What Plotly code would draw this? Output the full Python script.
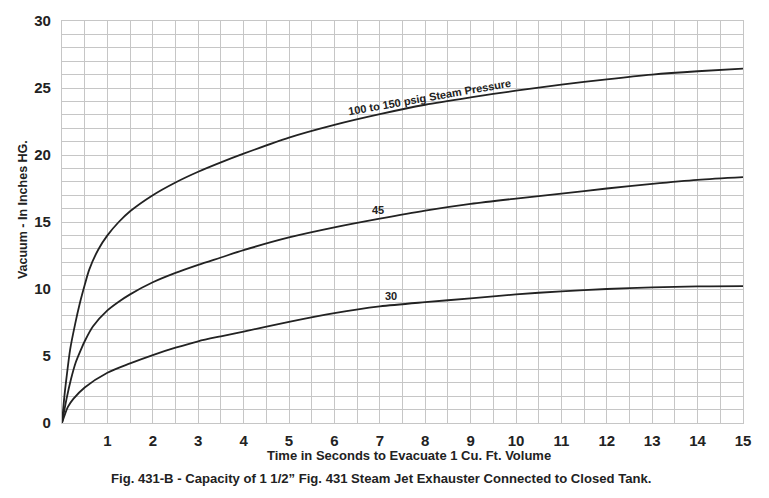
import plotly.graph_objects as go

# ---- data ----
x_top = [0, 0.05, 0.1, 0.18, 0.29, 0.39, 0.5, 0.6, 0.8, 1.0, 1.25, 1.5, 2.0, 2.5, 3.0, 3.5, 4.0, 5.0, 6.0, 7.0, 8.0, 9.0, 10.0, 11.0, 12.0, 13.0, 14.0, 15.0]
y_top = [0, 1.9, 3.4, 5.5, 7.4, 8.9, 10.3, 11.45, 12.95, 14.0, 15.0, 15.8, 17.0, 17.95, 18.75, 19.45, 20.1, 21.3, 22.25, 23.05, 23.75, 24.3, 24.8, 25.25, 25.65, 26.0, 26.25, 26.45]

x_mid = [0, 0.1, 0.2, 0.3, 0.42, 0.5, 0.68, 1.0, 1.25, 1.5, 2.0, 2.5, 3.0, 3.5, 4.0, 5.0, 6.0, 7.0, 8.0, 9.0, 10.0, 11.0, 12.0, 13.0, 14.0, 15.0]
y_mid = [0, 1.8, 3.3, 4.5, 5.5, 6.1, 7.2, 8.4, 9.05, 9.6, 10.5, 11.2, 11.8, 12.35, 12.9, 13.85, 14.6, 15.25, 15.85, 16.35, 16.75, 17.12, 17.5, 17.85, 18.15, 18.35]

x_low = [0, 0.05, 0.13, 0.25, 0.5, 1.0, 1.5, 2.0, 2.5, 3.0, 3.5, 4.0, 5.0, 6.0, 7.0, 8.0, 9.0, 10.0, 11.0, 12.0, 13.0, 14.0, 15.0]
y_low = [0, 0.5, 1.2, 1.8, 2.65, 3.75, 4.45, 5.07, 5.62, 6.1, 6.47, 6.82, 7.55, 8.2, 8.7, 9.02, 9.3, 9.6, 9.83, 10.0, 10.12, 10.2, 10.22]

x_ticks = list(range(1, 16))
y_ticks = [0, 5, 10, 15, 20, 25, 30]

curve_labels = ["100 to 150 psig Steam Pressure", "45", "30"]
label_x = [8.1, 6.95, 7.25]
label_y = [24.35, 15.9, 9.5]
label_angle = [-10, 0, 0]

caption = "Fig. 431-B - Capacity of 1 1/2\u201d Fig. 431 Steam Jet Exhauster Connected to Closed Tank."
x_title = "Time in Seconds to Evacuate 1 Cu. Ft. Volume"
y_title = "Vacuum - In Inches HG."

FONT = "Liberation Sans, Arial, sans-serif"
GRID = "#c6c6c6"
INK = "#222222"

fig = go.Figure()
for xs, ys in [(x_top, y_top), (x_mid, y_mid), (x_low, y_low)]:
    fig.add_trace(go.Scatter(x=xs, y=ys, mode="lines",
                             line=dict(color=INK, width=1.8, shape="spline", smoothing=0.8),
                             hoverinfo="skip", showlegend=False))

for t, xv, yv, ang in zip(curve_labels, label_x, label_y, label_angle):
    fig.add_annotation(x=xv, y=yv, text="<b>%s</b>" % t, showarrow=False,
                       textangle=ang, font=dict(family=FONT, size=11, color=INK),
                       xanchor="center", yanchor="middle")

fig.add_annotation(xref="paper", yref="paper", x=0.509, y=-0.080, text="<b>%s</b>" % x_title,
                   showarrow=False, font=dict(family=FONT, size=13, color=INK),
                   xanchor="center", yanchor="middle")
fig.add_annotation(xref="paper", yref="paper", x=0.468, y=-0.139, text="<b>%s</b>" % caption,
                   showarrow=False, font=dict(family=FONT, size=13.1, color=INK),
                   xanchor="center", yanchor="middle")
fig.add_annotation(xref="paper", yref="paper", x=-0.057, y=0.53, text="<b>%s</b>" % y_title,
                   showarrow=False, textangle=-90, font=dict(family=FONT, size=12.5, color=INK),
                   xanchor="center", yanchor="middle")

# the page body adds an 8px offset; margins compensate so the plot lands where the reference has it
fig.update_layout(
    width=769, height=498,
    margin=dict(l=54, r=34, t=13, b=83),
    paper_bgcolor="white", plot_bgcolor="white",
    font=dict(family=FONT, color=INK),
)
fig.update_xaxes(range=[0, 15], tickvals=x_ticks, ticktext=[str(v) for v in x_ticks],
                 tickfont=dict(family=FONT, size=15, color=INK, weight="bold"),
                 showgrid=True, gridcolor=GRID, gridwidth=1.2,
                 minor=dict(dtick=0.5, showgrid=True, gridcolor=GRID, gridwidth=1.2),
                 showline=True, linecolor=GRID, linewidth=1.2, mirror=True,
                 zeroline=False, ticks="", ticklabelstandoff=4, automargin=False)
fig.update_yaxes(range=[0, 30], tickvals=y_ticks, ticktext=[str(v) for v in y_ticks],
                 tickfont=dict(family=FONT, size=15, color=INK, weight="bold"),
                 showgrid=True, gridcolor=GRID, gridwidth=1.2,
                 minor=dict(dtick=1, showgrid=True, gridcolor=GRID, gridwidth=1.2),
                 showline=True, linecolor=GRID, linewidth=1.2, mirror=True,
                 zeroline=False, ticks="", ticklabelstandoff=7, automargin=False)

fig.write_html("out.html")
